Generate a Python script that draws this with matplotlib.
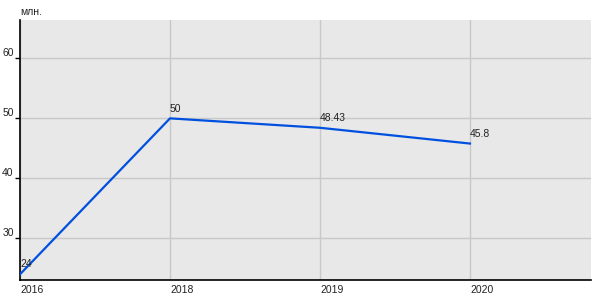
import matplotlib
matplotlib.use('agg')
import matplotlib.pyplot as plt

years = ['2016', '2018', '2019', '2020']
values = [24, 50, 48.43, 45.8]
labels = ['24', '50', '48.43', '45.8']
y_ticks = [30, 40, 50, 60]

plt.rcParams['font.family'] = ['Liberation Sans', 'DejaVu Sans']
plt.rcParams['font.size'] = 7.5

fig = plt.figure(figsize=(6, 3), dpi=100)
ax = fig.add_axes([20/600, 20/300, 571/600, 260/300])
ax.set_facecolor('#e8e8e8')

x = list(range(len(years)))
ax.plot(x, values, color='#0050e0', lw=1.6, zorder=3)
for xi, v, lab in zip(x, values, labels):
    ax.annotate(lab, (xi, v), xytext=(0, 3.5), textcoords='offset points',
                ha='left', va='bottom', fontsize=7.5, color='#222222')

ax.set_xlim(0, 3.807)
ax.set_ylim(23.05, 66.4)
ax.set_xticks(x)
ax.set_xticklabels(years)
for t in ax.get_xticklabels():
    t.set_horizontalalignment('left')
ax.set_yticks(y_ticks)
ax.set_yticklabels([str(v) for v in y_ticks])
for t in ax.get_yticklabels():
    t.set_verticalalignment('bottom')

ax.grid(True, color='#c8c8c8', lw=1)
ax.set_axisbelow(True)
ax.tick_params(axis='x', length=0, pad=3.5, colors='#222222')
ax.tick_params(axis='y', length=3.5, width=1, pad=1, colors='black', labelcolor='#222222')

for s in ['top', 'right']:
    ax.spines[s].set_visible(False)
ax.spines['left'].set_linewidth(1.2)
ax.spines['bottom'].set_linewidth(1.2)

fig.text(20/600, 1 - 12/300, 'млн.', ha='left', va='center', fontsize=7.5, color='#222222')

plt.savefig('out.png', dpi=100)
plt.close()
